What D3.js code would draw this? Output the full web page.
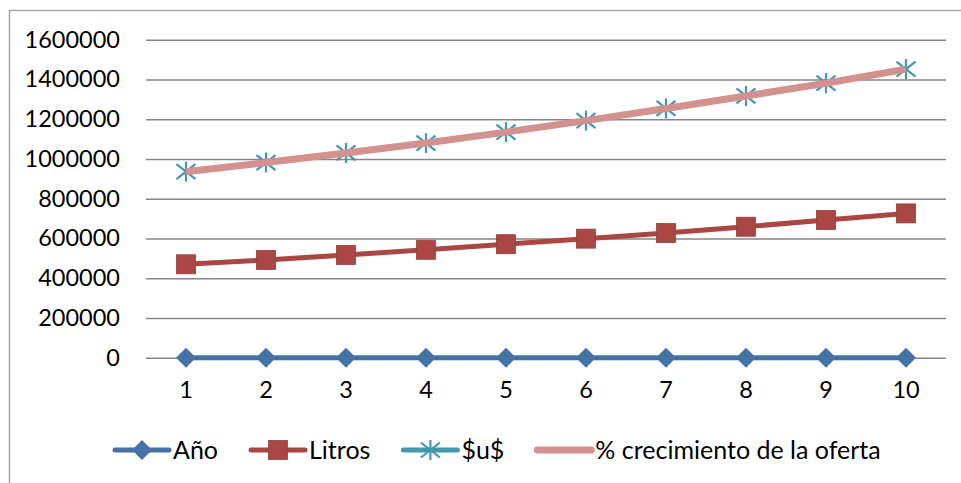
<!DOCTYPE html>
<html>
<head>
<meta charset="utf-8">
<script src="https://cdn.jsdelivr.net/npm/d3@7"></script>
<style>
  html, body { margin: 0; padding: 0; background: #fff; }
  svg { display: block; }
  text { font-family: Lato, "Open Sans", sans-serif; fill: #000; }
</style>
</head>
<body>
<svg id="chart" width="961" height="483"></svg>
<script>
// Years on the horizontal axis
const categories = ["1", "2", "3", "4", "5", "6", "7", "8", "9", "10"];

// Series values per year
const anio = [1, 2, 3, 4, 5, 6, 7, 8, 9, 10];
const litros = [470000, 492000, 517000, 543000, 571000, 599000, 627000, 659000, 693000, 726000];
const usd = [936000, 982000, 1030000, 1080000, 1135000, 1193000, 1254000, 1317000, 1381000, 1452000];
const crecimiento = [936000, 982000, 1030000, 1080000, 1135000, 1193000, 1254000, 1317000, 1381000, 1452000];

const yTicks = [0, 200000, 400000, 600000, 800000, 1000000, 1200000, 1400000, 1600000];

const seriesNames = ["Año", "Litros", "$u$", "% crecimiento de la oferta"];

const series = [
  { name: seriesNames[0], values: anio, color: "#4572A7", width: 5, marker: "diamond" },
  { name: seriesNames[1], values: litros, color: "#AA4643", width: 5, marker: "square" },
  { name: seriesNames[2], values: usd, color: "#4198AF", width: 5, marker: "star" },
  { name: seriesNames[3], values: crecimiento, color: "#D39190", width: 7, marker: null }
];

const svg = d3.select("#chart");

// Chart frame
svg.append("rect")
  .attr("x", 9.5).attr("y", 10.5)
  .attr("width", 1000).attr("height", 1000)
  .attr("fill", "none")
  .attr("stroke", "#A6A6A6")
  .attr("stroke-width", 1.5);

const plot = { left: 146, right: 946, top: 39.7, bottom: 357.7 };

const x = d3.scaleBand().domain(categories).range([plot.left, plot.right]).padding(0);
const cx = c => x(c) + x.bandwidth() / 2;
const y = d3.scaleLinear().domain([0, 1600000]).range([plot.bottom, plot.top]);

// Horizontal gridlines + value labels
const yAxis = d3.axisLeft(y).tickValues(yTicks).tickFormat(d3.format("d"))
  .tickSize(-(plot.right - plot.left)).tickPadding(26);
const gy = svg.append("g").attr("transform", `translate(${plot.left},0)`).call(yAxis);
gy.select(".domain").remove();
gy.selectAll(".tick line").attr("stroke", "#868686").attr("stroke-width", 1.6);
gy.selectAll(".tick text").attr("font-size", 23.5).attr("fill", "#000")
  .attr("font-family", "Lato, 'Open Sans', sans-serif");

// Category labels
const xAxis = d3.axisBottom(x).tickSize(0).tickPadding(24);
const gx = svg.append("g").attr("transform", `translate(0,${plot.bottom})`).call(xAxis);
gx.select(".domain").remove();
gx.selectAll(".tick text").attr("font-size", 23.5).attr("fill", "#000")
  .attr("font-family", "Lato, 'Open Sans', sans-serif");

// Marker drawing
function drawMarker(g, type, color, px, py) {
  if (type === "diamond") {
    const r = 10;
    g.append("path")
      .attr("d", `M${px},${py - r}L${px + r},${py}L${px},${py + r}L${px - r},${py}Z`)
      .attr("fill", color);
  } else if (type === "square") {
    const s = 19;
    g.append("rect")
      .attr("x", px - s / 2).attr("y", py - s / 2)
      .attr("width", s).attr("height", s)
      .attr("fill", color).attr("stroke", "#9c3e3b").attr("stroke-width", 0.8);
  } else if (type === "star") {
    const r = 10;
    const sg = g.append("g").attr("stroke", color).attr("stroke-width", 2.2).attr("fill", "none");
    sg.append("line").attr("x1", px).attr("y1", py - r).attr("x2", px).attr("y2", py + r);
    sg.append("line").attr("x1", px - r * 0.95).attr("y1", py - r * 0.75).attr("x2", px + r * 0.95).attr("y2", py + r * 0.75);
    sg.append("line").attr("x1", px - r * 0.95).attr("y1", py + r * 0.75).attr("x2", px + r * 0.95).attr("y2", py - r * 0.75);
  }
}

const line = d3.line().x((d, i) => cx(categories[i])).y(d => y(d));

series.forEach(s => {
  const g = svg.append("g");
  g.append("path")
    .datum(s.values)
    .attr("d", line)
    .attr("fill", "none")
    .attr("stroke", s.color)
    .attr("stroke-width", s.width)
    .attr("stroke-linejoin", "round");
  if (s.marker) {
    s.values.forEach((v, i) => drawMarker(g, s.marker, s.color, cx(categories[i]), y(v)));
  }
});

// Legend
const legendY = 450;
let lx = 115;
series.forEach(s => {
  const g = svg.append("g");
  g.append("line")
    .attr("x1", lx).attr("x2", lx + 54)
    .attr("y1", legendY).attr("y2", legendY)
    .attr("stroke", s.color).attr("stroke-width", s.width).attr("stroke-linecap", "round");
  if (s.marker) drawMarker(g, s.marker, s.color, lx + 27, legendY);
  const t = g.append("text")
    .attr("x", lx + 58).attr("y", legendY)
    .attr("dy", "0.35em")
    .attr("font-size", 25)
    .text(s.name);
  lx = lx + 58 + t.node().getComputedTextLength() + 33;
});
</script>
</body>
</html>
